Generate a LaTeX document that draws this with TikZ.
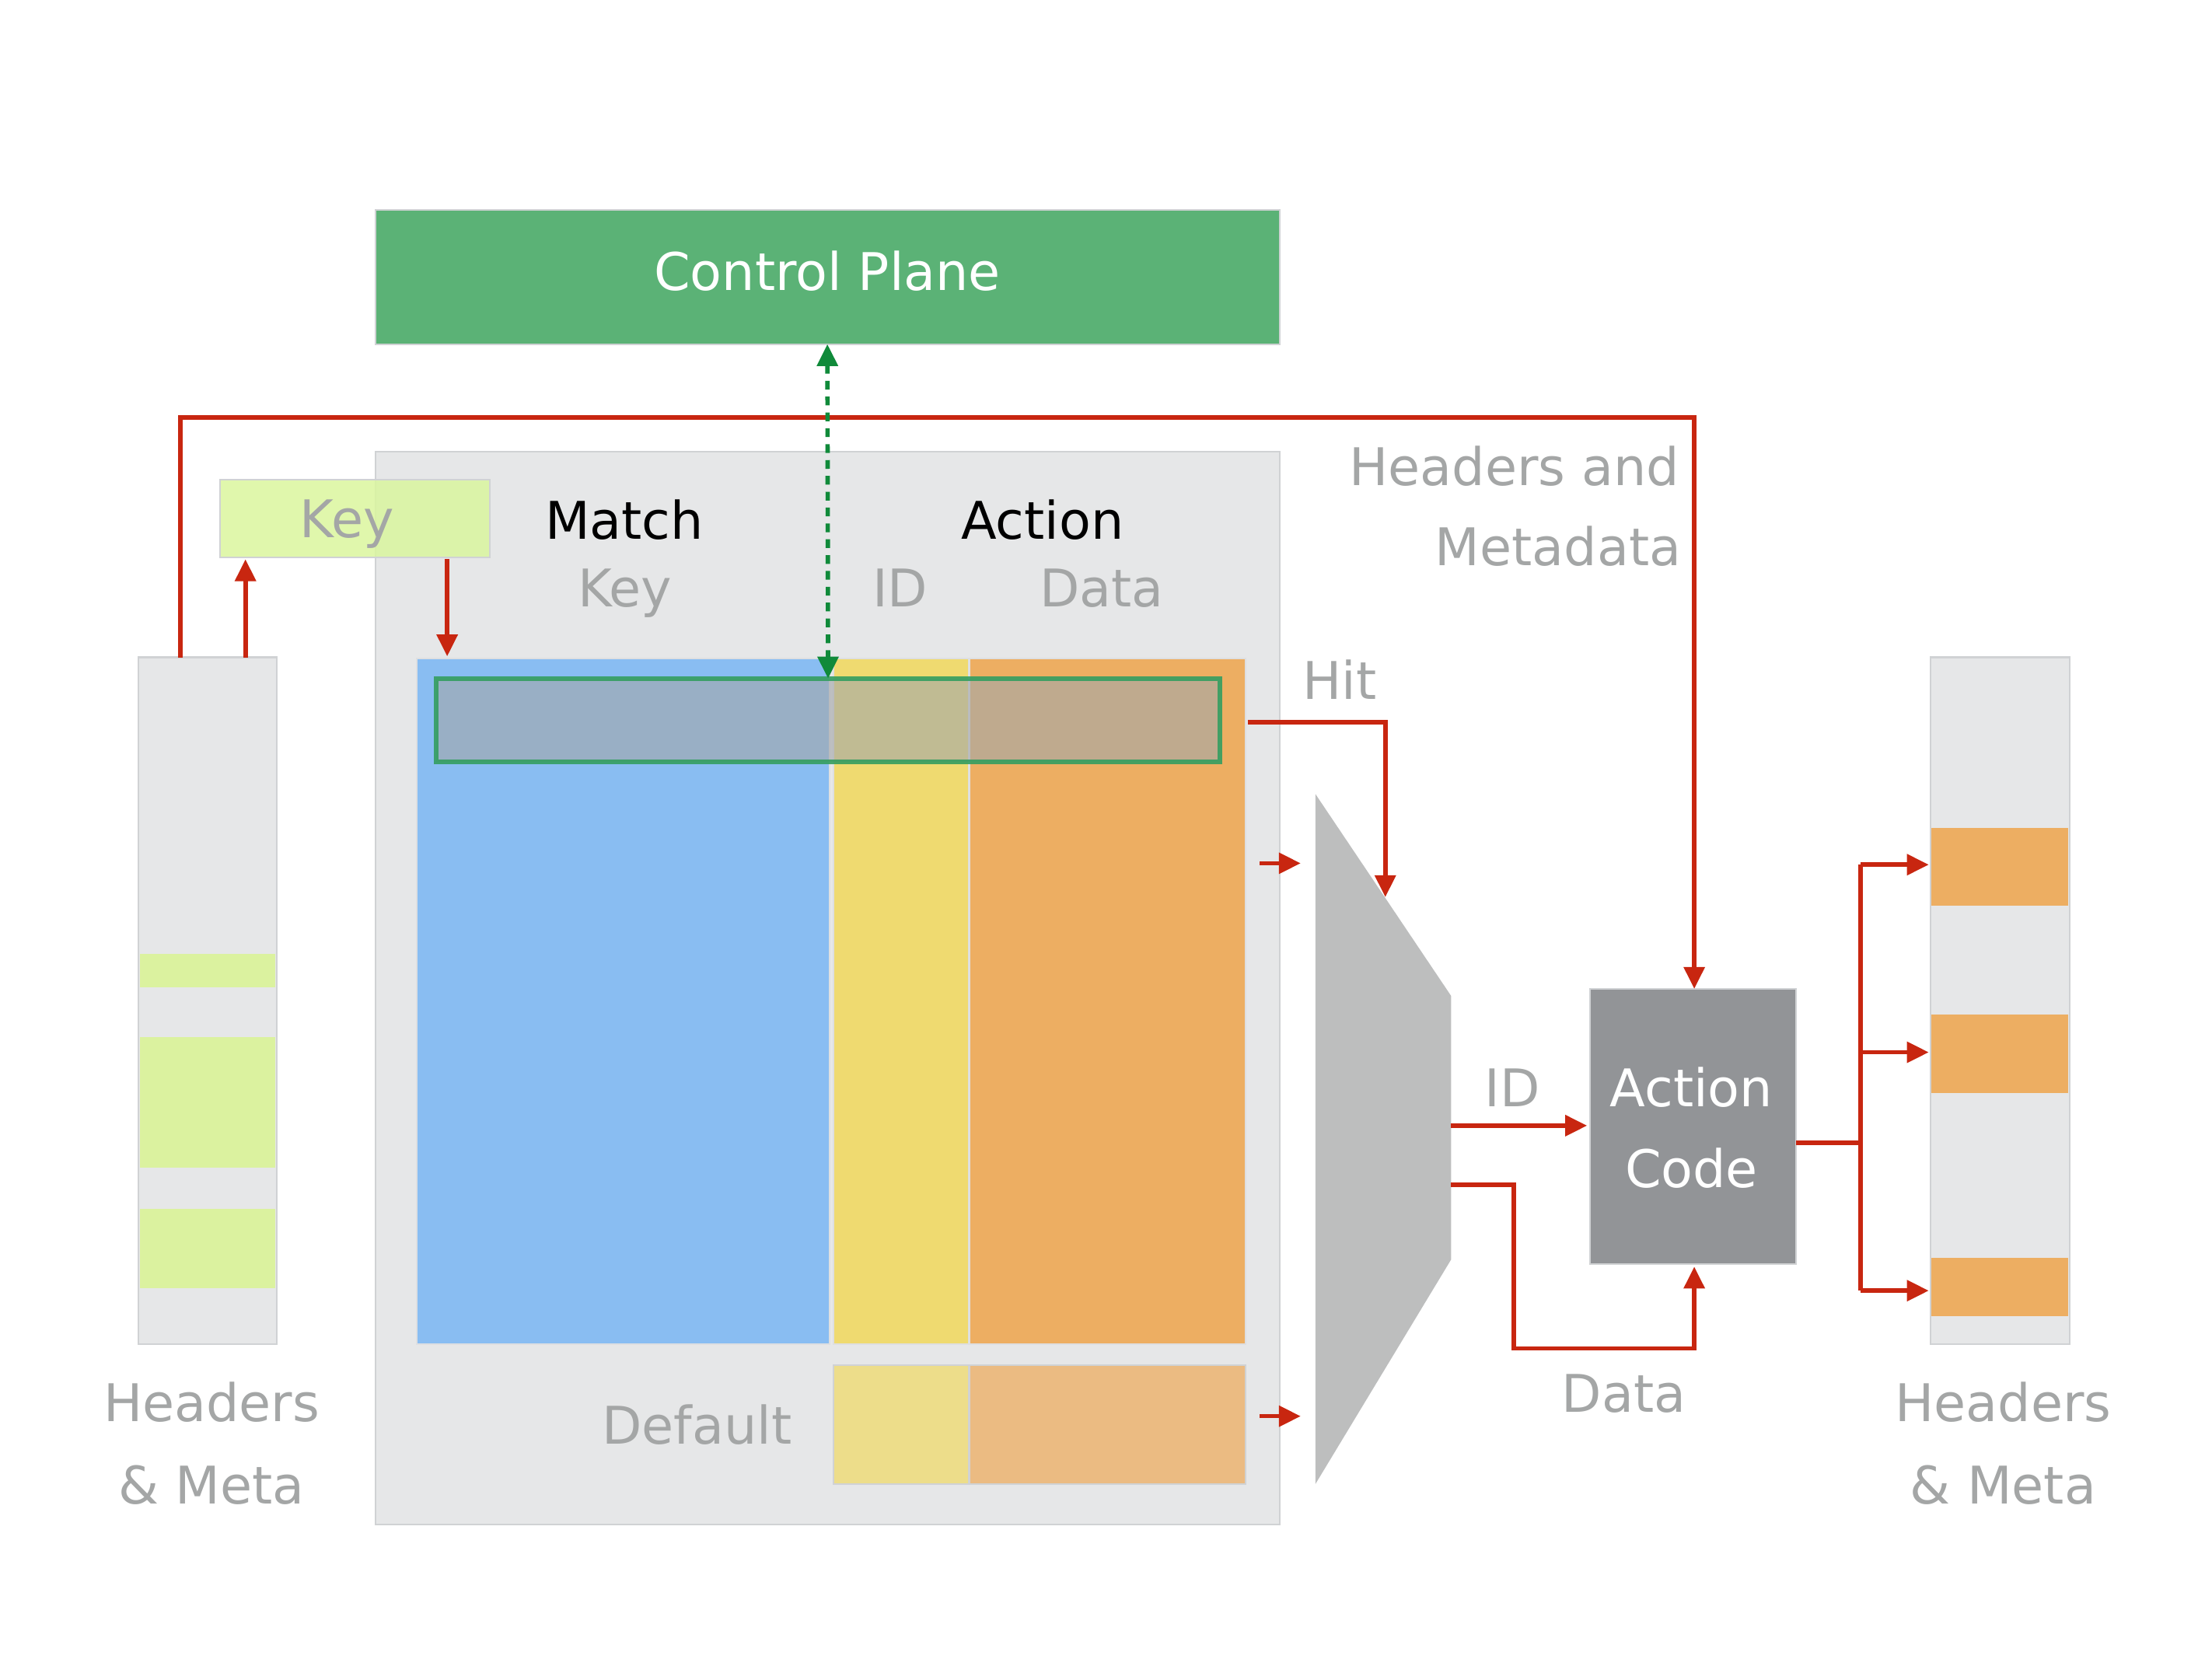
\documentclass[tikz,border=0pt]{standalone}
\usepackage{fontspec}
\setmainfont{DejaVu Sans}
\usetikzlibrary{arrows.meta,fit,calc}
\definecolor{cpgreen}{RGB}{91,178,118}
\definecolor{panelgray}{RGB}{230,231,232}
\definecolor{edgegray}{RGB}{208,210,212}
\definecolor{mblue}{RGB}{137,189,242}
\definecolor{myellow}{RGB}{239,218,112}
\definecolor{morange}{RGB}{237,174,98}
\definecolor{dyellow}{RGB}{237,221,138}
\definecolor{dorange}{RGB}{235,187,130}
\definecolor{keygreen}{RGB}{218,246,158}
\definecolor{bargreen}{RGB}{219,242,159}
\definecolor{muxgray}{RGB}{189,190,190}
\definecolor{acgray}{RGB}{146,148,151}
\definecolor{myred}{RGB}{200,38,16}
\definecolor{dgreen}{RGB}{16,138,58}
\definecolor{rowgreen}{RGB}{52,158,96}
\definecolor{rowgray}{RGB}{164,168,170}
\definecolor{txtgray}{RGB}{164,166,166}
\begin{document}
\begin{tikzpicture}[x=0.018144cm,y=-0.018144cm,
  region/.style={inner sep=0pt,outer sep=0pt,draw=edgegray,line width=0.6pt},
  lbl/.style={font=\fontsize{19}{22}\selectfont,text=txtgray,inner sep=0pt,anchor=base},
  redline/.style={draw=myred,line width=1.6pt},
  redarrow/.style={redline,-{Triangle[length=8pt,width=7.5pt]}},
  cparrow/.style={draw=dgreen,line width=1.6pt,dash pattern=on 3.2pt off 2.6pt,
    {Triangle[length=8pt,width=7.5pt]}-{Triangle[length=8pt,width=7.5pt]}}]
\useasboundingbox (0,0) rectangle (1568,1176);

% control plane
\node[region,fill=cpgreen,fit={(266,149) (907,244)}] (cp) {};
\node[lbl,text=white] (cptxt) at (586.5,206) {Control Plane};

% main table panel
\node[region,fill=panelgray,fit={(266,320) (907,1081)}] (tbl) {};

% left headers & meta
\node[region,fill=panelgray,fit={(98,466) (196,953)}] (hmL) {};
\fill[bargreen] (99,676) rectangle (195,700);
\fill[bargreen] (99,735) rectangle (195,828);
\fill[bargreen] (99,857) rectangle (195,913);
\node[lbl] (hmLt1) at (150,1008) {Headers};
\node[lbl] (hmLt2) at (150,1066) {\& Meta};

% key box
\node[region,fill=keygreen,fill opacity=0.85,fit={(156,340) (347,395)}] (keybox) {};
\node[lbl] (keytxt) at (246,381) {Key};

% headings
\node[lbl,text=black] (match) at (442.6,382) {Match};
\node[lbl] (mkey) at (443,430) {Key};
\node[lbl,text=black] (action) at (739,382) {Action};
\node[lbl] (aid) at (638,430) {ID};
\node[lbl] (adata) at (781,430) {Data};

% table columns
\node[region,draw=edgegray!70,fill=mblue,fit={(295.5,466.8) (588,953)}] (blue) {};
\node[region,draw=edgegray!70,fill=myellow,fit={(591,466.8) (687,953)}] (yellow) {};
\node[region,draw=edgegray!70,fill=morange,fit={(687,466.8) (883,953)}] (orange) {};

% highlighted row
\node[inner sep=0pt,outer sep=0pt,fit={(309,481) (865,540)},fill=rowgray,fill opacity=0.62,
  draw=rowgreen,draw opacity=0.9,line width=1.7pt] (row) {};

% default row
\node[region,fill=dyellow,fit={(591,968) (687,1052)}] (dyel) {};
\node[region,fill=dorange,fit={(687,968) (883,1052)}] (dora) {};
\node[lbl] (deftxt) at (494,1024) {Default};

% mux
\coordinate (muxTL) at (932.5,563);
\coordinate (muxTR) at (1028.6,706);
\coordinate (muxBR) at (1028.6,893);
\coordinate (muxBL) at (932.5,1052);
\fill[muxgray] (muxTL) -- (muxTR) -- (muxBR) -- (muxBL) -- cycle;

% action code
\node[region,fill=acgray,fit={(1127,701) (1273,896)}] (ac) {};
\node[lbl,text=white] (act1) at (1199,784.5) {Action};
\node[lbl,text=white] (act2) at (1199,842) {Code};

% right headers & meta
\node[region,fill=panelgray,fit={(1368.5,466) (1467,953)}] (hmR) {};
\node[inner sep=0pt,outer sep=0pt,fill=morange,fit={(1369.2,587) (1466.3,642)}] (ob1) {};
\node[inner sep=0pt,outer sep=0pt,fill=morange,fit={(1369.2,719) (1466.3,775)}] (ob2) {};
\node[inner sep=0pt,outer sep=0pt,fill=morange,fit={(1369.2,892) (1466.3,933)}] (ob3) {};
\node[lbl] (hmRt1) at (1420,1008) {Headers};
\node[lbl] (hmRt2) at (1420,1066) {\& Meta};

% labels
\node[lbl,anchor=base east] (hm1) at (1191,344) {Headers and};
\node[lbl,anchor=base east] (hm2) at (1192,401) {Metadata};
\node[lbl] (hit) at (949.6,496) {Hit};
\node[lbl] (idl) at (1072,784.5) {ID};
\node[lbl] (datal) at (1151,1001) {Data};

% connectors
\draw[redarrow] ($(hmL.north west)+(30,0)$) -- (128,296) -- (1201,296) -- ($(ac.north)+(1,0)$);
\draw[redarrow] ($(hmL.north west)+(76,0)$) -- ($(keybox.south west)+(18,1.5)$);
\draw[redarrow] ($(keybox.south west)+(161,1.5)$) -- ($(blue.north west)+(21.5,-1.5)$);
\draw[cparrow] (cp.south) -- (row.north);

\coordinate (hitend) at (982,636);
\draw[redarrow] ($(row.east -| orange.east)+(1.5,1.5)$) -| (hitend);
\coordinate (sa1) at (893,612);
\coordinate (sa1e) at (922,612);
\draw[redarrow] (sa1) -- (sa1e);
\coordinate (sa2) at (893,1004);
\coordinate (sa2e) at (922,1004);
\draw[redarrow] (sa2) -- (sa2e);

\coordinate (muxid) at (1028.6,798);
\draw[redarrow] (muxid) -- ($(ac.west |- muxid)+(-2,0)$);
\coordinate (muxdata) at (1028.6,840);
\draw[redarrow] (muxdata) -- (1073,840) -- (1073,956) -| ($(ac.south)+(1,2)$);

\coordinate (br) at (1319,810);
\coordinate (b1) at (1319,613);
\coordinate (b2) at (1319,746);
\coordinate (b3) at (1319,915);
\draw[redline] ($(ac.east)+(0,11.5)$) -- (br);
\draw[redline] (b1) -- (b3);
\draw[redarrow] (b1) -- ($(ob1.west |- b1)+(-2,0)$);
\draw[redarrow] (b2) -- ($(ob2.west |- b2)+(-2,0)$);
\draw[redarrow] (b3) -- ($(ob3.west |- b3)+(-2,0)$);
\end{tikzpicture}
\end{document}
